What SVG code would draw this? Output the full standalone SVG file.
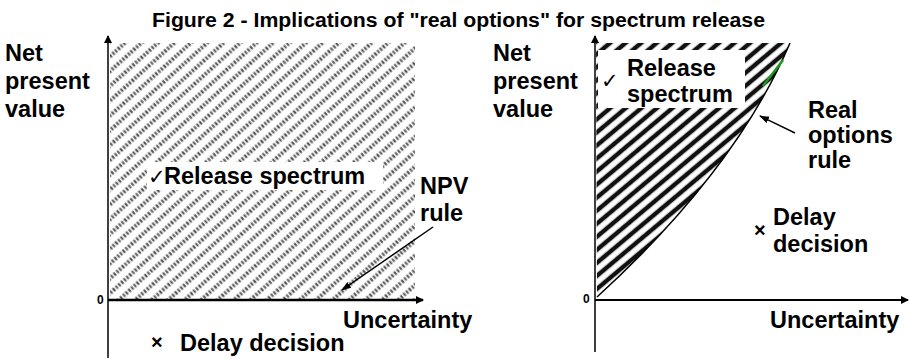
<svg xmlns="http://www.w3.org/2000/svg" width="909" height="359" viewBox="0 0 909 359">
<defs>
<style>
.t{font-family:"Liberation Sans",Arial,sans-serif;font-weight:bold;fill:#000}
.lbl{font-size:23.5px}
.ax{stroke:#000;fill:none}
.ck{font-family:"DejaVu Sans",sans-serif;font-size:21px;fill:#000}
.x{font-size:20px}
</style>
<pattern id="hatchL" patternUnits="userSpaceOnUse" width="11" height="11" patternTransform="rotate(-42)">
<line x1="0" y1="5.5" x2="11" y2="5.5" stroke="#555" stroke-width="4.2" stroke-dasharray="2,1.6"/>
</pattern>
<pattern id="hatchR" patternUnits="userSpaceOnUse" width="10" height="10" patternTransform="rotate(-40)">
<line x1="0" y1="5" x2="10" y2="5" stroke="#111" stroke-width="4.5"/>
</pattern>
<marker id="arr" markerWidth="8" markerHeight="8" refX="7" refY="4" orient="auto" markerUnits="userSpaceOnUse">
<path d="M0,0 L8,4 L0,8 Z" fill="#000"/>
</marker>
<marker id="arrS" markerWidth="10" markerHeight="8" refX="9" refY="4" orient="auto" markerUnits="userSpaceOnUse">
<path d="M0,0.5 L10,4 L0,7.5 Z" fill="#000"/>
</marker>
</defs>
<rect width="909" height="359" fill="#fff"/>
<text id="title" class="t" x="152" y="27" font-size="20" textLength="613" lengthAdjust="spacingAndGlyphs">Figure 2 - Implications of "real options" for spectrum release</text>

<g id="left-chart">
<rect id="left-hatch" x="110" y="43" width="305" height="257" fill="url(#hatchL)"/>
<g id="left-ylabel" class="t lbl">
<text x="5" y="61">Net</text>
<text x="5" y="89">present</text>
<text x="5" y="117">value</text>
</g>
<g id="left-release">
<rect x="147" y="162" width="236" height="28" fill="#fff"/>
<text class="ck" x="148" y="184">✓</text>
<text class="t lbl" x="164" y="184">Release spectrum</text>
</g>
<text id="left-npv" class="t lbl"><tspan x="420" y="194">NPV</tspan><tspan x="420" y="221">rule</tspan></text>
<text id="left-zero" class="t" x="97" y="304" font-size="12">0</text>
<text id="left-xlabel" class="t lbl" x="343" y="328">Uncertainty</text>
<g id="left-delay">
<text class="t x" x="151" y="349">×</text>
<text class="t lbl" x="180" y="351">Delay decision</text>
</g>
</g>

<g id="right-chart">
<path id="right-hatch" d="M596,43 L790,43 Q736,170 597,297 Z" fill="url(#hatchR)"/>
<g id="right-release">
<rect x="598" y="50" width="147" height="58" fill="#fff"/>
<text class="ck" x="601" y="88">✓</text>
<text class="t lbl" x="627" y="76">Release</text>
<text class="t lbl" x="627" y="102">spectrum</text>
</g>
<path id="rule-curve" d="M597,297 Q736,170 790,43" stroke="#000" stroke-width="1.5" fill="none"/>
<line x1="783" y1="60" x2="763" y2="86" stroke="#1a9a1a" stroke-width="2.5"/>
<g id="right-ylabel" class="t lbl">
<text x="493" y="61">Net</text>
<text x="493" y="89">present</text>
<text x="493" y="117">value</text>
</g>
<text id="right-real" class="t lbl"><tspan x="808" y="118">Real</tspan><tspan x="808" y="143">options</tspan><tspan x="808" y="168">rule</tspan></text>
<text id="right-zero" class="t" x="583" y="303" font-size="12">0</text>
<text id="right-xlabel" class="t lbl" x="770" y="328">Uncertainty</text>
<g id="right-delay">
<text class="t x" x="754" y="237">×</text>
<text class="t lbl" x="773" y="225">Delay</text>
<text class="t lbl" x="773" y="252">decision</text>
</g>
</g>

<g id="connectors">
<line class="ax" x1="108" y1="358" x2="108" y2="36" stroke-width="1.5" marker-end="url(#arr)"/>
<line class="ax" x1="108" y1="300" x2="423" y2="300" stroke-width="2.5" marker-end="url(#arr)"/>
<line class="ax" x1="595" y1="352" x2="595" y2="36" stroke-width="1.5" marker-end="url(#arr)"/>
<line class="ax" x1="595" y1="300" x2="908" y2="300" stroke-width="2" marker-end="url(#arr)"/>
<line class="ax" x1="433" y1="227" x2="342" y2="290" stroke-width="1.5" marker-end="url(#arrS)"/>
<line class="ax" x1="795" y1="133" x2="760" y2="116" stroke-width="1.5" marker-end="url(#arrS)"/>
</g>
</svg>
